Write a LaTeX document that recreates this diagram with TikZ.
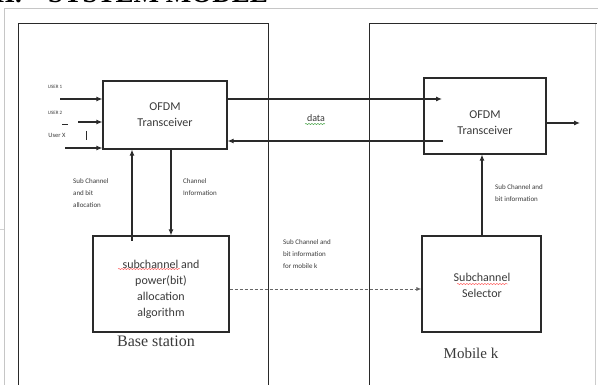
\documentclass[tikz,border=0pt]{standalone}
\usepackage{fontspec}
\setmainfont{Liberation Serif}
\newfontfamily\calfont{Carlito}
\usetikzlibrary{arrows.meta,decorations.pathmorphing}
\definecolor{ink}{HTML}{2A2A2A}
\definecolor{txt}{HTML}{3A3A3A}
\tikzset{
  box/.style={draw=ink,line width=1.1pt,fill=white,inner sep=0pt,font=\calfont\fontsize{12}{16}\selectfont,text=txt,align=center},
  boxtext/.style={inner sep=0pt,font=\calfont\fontsize{12}{16}\selectfont,text=txt,align=center},
  conn/.style={draw=ink,line width=1.1pt},
  arr/.style={conn,-{Latex[length=6pt,width=5pt]}},
  small/.style={font=\calfont\fontsize{7}{12}\selectfont,text=txt,align=left,inner sep=0pt},
  tiny/.style={font=\calfont\fontsize{5}{6}\selectfont,text=txt,inner sep=0pt},
  panel/.style={draw=ink,line width=1pt},
  captxt/.style={font=\fontsize{16}{18}\selectfont,text=txt,inner sep=0pt},
  squig/.style={draw=red!70,line width=0.4pt,decorate,decoration={snake,amplitude=0.6pt,segment length=3pt}}
}
\begin{document}
\begin{tikzpicture}[x=1pt,y=-1pt]
\useasboundingbox (0,0) rectangle (598,385);
\clip (0,0) rectangle (598,385);
% heading (cut off at the top edge, as in the reference)
\node[anchor=base east,inner sep=0pt,font=\bfseries\fontsize{27}{30}\selectfont] (h1) at (22,3) {II.};
\node[anchor=base west,inner sep=0pt,font=\bfseries\fontsize{27}{30}\selectfont] (h2) at (48,3) {SYSTEM MODEL};
% outer gray frame
\draw[gray!45,line width=1pt] (4,400) -- (4,9) -- (598,9);
\draw[gray!35,line width=0.6pt] (0,229) -- (4,229);
% panels
\draw[panel] (18,400) -- (18,24) -- (268,24) -- (268,400);
\draw[panel] (369,400) -- (369,24) -- (597,24);
\draw[gray!40,line width=0.8pt] (595,24) -- (595,400);
% boxes
\node[box,minimum width=124pt,minimum height=68pt] (ofdmL) at (165,115) {OFDM\\Transceiver};
\node[box,minimum width=122pt,minimum height=76pt] (ofdmR) at (485,116) {};
\node[boxtext] (ofdmRt) at (485,123) {OFDM\\Transceiver};
\node[box,minimum width=136pt,minimum height=96pt] (alg) at (161,284) {};
\node[boxtext] (algt) at (161,289) {subchannel and\\power(bit)\\allocation\\algorithm};
\node[box,minimum width=119pt,minimum height=96pt] (sel) at (481.5,284) {};
\node[boxtext] (selt) at (482,285) {Subchannel\\Selector};
% spell-check squiggles
\draw[squig] (118,269) -- (180,269);
\draw[squig] (457,284) -- (508,284);
\draw[draw=green!50!black,line width=0.4pt,decorate,decoration={snake,amplitude=0.5pt,segment length=3pt}] (305,124) -- (325,124);
% user inputs
\coordinate (u1) at (60,99);
\coordinate (u2) at (78,122);
\coordinate (u3) at (65,148);
\draw[arr] (u1) -- (u1 -| ofdmL.west);
\draw[arr] (u2) -- (u2 -| ofdmL.west);
\draw[arr] (u3) -- (u3 -| ofdmL.west);
\node[tiny] (l1) at (55,87) {USER 1};
\node[tiny] (l2) at (55,113) {USER 2};
\node[tiny,font=\calfont\fontsize{6.5}{7}\selectfont] (l3) at (57,135) {User X};
\draw[ink,line width=0.6pt] (62,124) -- (68,124);
\draw[ink,line width=0.8pt] (86,131) -- (86,140);
% data link
\coordinate (dR1) at (442,99);
\coordinate (dR2) at (443,141);
\draw[arr] (ofdmL.east |- dR1) -- (dR1);
\draw[arr] (dR2) -- (dR2 -| ofdmL.east);
\node[font=\calfont\fontsize{10}{12}\selectfont,text=txt,inner sep=0pt] (data) at (316,118) {data};
% output
\coordinate (out) at (580,123);
\draw[arr] (ofdmR.east |- out) -- (out);
% left verticals
\coordinate (vA) at (132,241);
\draw[arr] (vA) -- (vA |- ofdmL.south);
\coordinate (vB) at (171,149);
\draw[arr] (vB) -- (vB |- alg.north);
\node[small,anchor=north west] (lab1) at (73,178) {Sub Channel\\and bit\\allocation};
\node[small,anchor=north west] (lab2) at (183,178) {Channel\\Information};
% dashed link
\draw[conn,line width=0.8pt,densely dashed,draw=gray!80!black,-{Latex[length=5pt,width=4pt]}] (alg.east |- 0,289) -- (sel.west |- 0,289);
\node[small,anchor=north west] (lab3) at (283,239) {Sub Channel and\\bit information\\for mobile k};
% right vertical
\coordinate (vC) at (482,236);
\draw[arr] (vC) -- (vC |- ofdmR.south);
\node[small,anchor=north west] (lab4) at (495,184) {Sub Channel and\\bit information};
% captions
\node[captxt] (bs) at (156,341) {Base station};
\node[captxt,font=\fontsize{15}{18}\selectfont] (mk) at (471,353) {Mobile k};
\end{tikzpicture}
\end{document}
